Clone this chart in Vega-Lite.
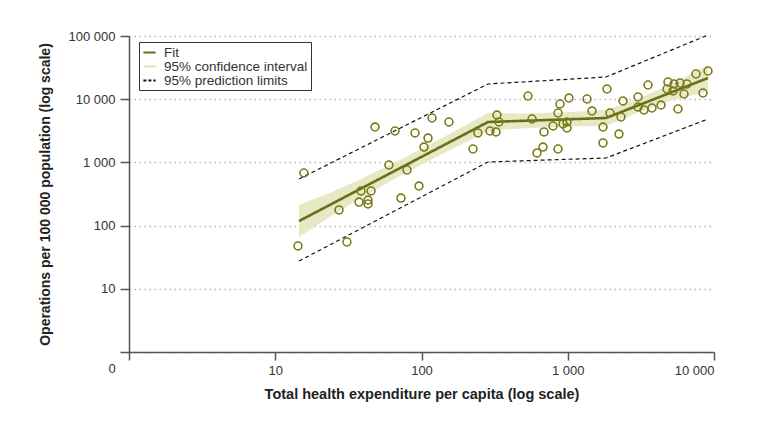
{
  "$schema": "https://vega.github.io/schema/vega-lite/v6.json",
  "width": 585,
  "height": 316,
  "autosize": {"type": "none"},
  "padding": {"left": 129, "top": 36, "right": 57, "bottom": 82},
  "background": "white",
  "config": {
    "view": {"stroke": null},
    "font": "Liberation Sans"
  },
  "datasets": {
    "pts": [
      {"x": 14.3, "y": 47.6}, {"x": 15.7, "y": 680}, {"x": 27.3, "y": 177}, {"x": 30.9, "y": 55},
      {"x": 38.6, "y": 353}, {"x": 37.4, "y": 236}, {"x": 43.1, "y": 254}, {"x": 43.1, "y": 220},
      {"x": 45.2, "y": 353}, {"x": 59.9, "y": 910}, {"x": 72.4, "y": 273}, {"x": 79.6, "y": 758},
      {"x": 96.1, "y": 423}, {"x": 48.1, "y": 3630}, {"x": 65.9, "y": 3140}, {"x": 90.3, "y": 2920},
      {"x": 118, "y": 5040}, {"x": 110.8, "y": 2430}, {"x": 104, "y": 1750}, {"x": 154, "y": 4360},
      {"x": 243, "y": 2920}, {"x": 225, "y": 1630}, {"x": 328, "y": 5620}, {"x": 339, "y": 4360},
      {"x": 294, "y": 3140}, {"x": 323, "y": 3030}, {"x": 535, "y": 11240}, {"x": 570, "y": 4860},
      {"x": 616, "y": 1410}, {"x": 688, "y": 3030}, {"x": 677, "y": 1750}, {"x": 858, "y": 1630},
      {"x": 793, "y": 3770}, {"x": 858, "y": 6050}, {"x": 885, "y": 8400}, {"x": 1020, "y": 10440},
      {"x": 928, "y": 4060}, {"x": 988, "y": 4360}, {"x": 988, "y": 3500}, {"x": 1354, "y": 10080},
      {"x": 1465, "y": 6500}, {"x": 1855, "y": 14500}, {"x": 1742, "y": 3630}, {"x": 1742, "y": 2030},
      {"x": 1945, "y": 6050}, {"x": 2312, "y": 5230}, {"x": 2240, "y": 2810}, {"x": 2387, "y": 9370},
      {"x": 3022, "y": 10830}, {"x": 3022, "y": 7530}, {"x": 3322, "y": 6750}, {"x": 3539, "y": 16780},
      {"x": 3768, "y": 7255}, {"x": 4343, "y": 8090}, {"x": 4846, "y": 18710}, {"x": 4773, "y": 14500},
      {"x": 5325, "y": 17400}, {"x": 5245, "y": 13490}, {"x": 5858, "y": 18050}, {"x": 6536, "y": 17400},
      {"x": 6236, "y": 12090}, {"x": 5674, "y": 7000}, {"x": 7530, "y": 25050}, {"x": 8410, "y": 12530},
      {"x": 9100, "y": 27940}
    ],
    "band": [
      {"x": 14.54, "lo": 66.0, "hi": 211.8},
      {"x": 23.68, "lo": 137.8, "hi": 330.4},
      {"x": 37.98, "lo": 268.5, "hi": 536.3},
      {"x": 71.29, "lo": 609.2, "hi": 1091},
      {"x": 133.8, "lo": 1310, "hi": 2346},
      {"x": 284.9, "lo": 3140, "hi": 6047},
      {"x": 471.6, "lo": 3439, "hi": 5938},
      {"x": 885.2, "lo": 3686, "hi": 6137},
      {"x": 1826, "lo": 3766, "hi": 6748},
      {"x": 3119, "lo": 6342, "hi": 10560},
      {"x": 5002, "lo": 9400, "hi": 16840},
      {"x": 9100, "lo": 13480, "hi": 34760}
    ],
    "fit": [
      {"x": 14.54, "y": 118, "series": "Fit"},
      {"x": 284.9, "y": 4356, "series": "Fit"},
      {"x": 1826, "y": 5040, "series": "Fit"},
      {"x": 9100, "y": 21650, "series": "Fit"}
    ],
    "pred": [
      {"x": 14.54, "y": 546, "part": "upper"},
      {"x": 284.9, "y": 17400, "part": "upper"},
      {"x": 1826, "y": 22450, "part": "upper"},
      {"x": 9100, "y": 103700, "part": "upper"},
      {"x": 14.54, "y": 27.5, "part": "lower"},
      {"x": 284.9, "y": 1015, "part": "lower"},
      {"x": 1826, "y": 1174, "part": "lower"},
      {"x": 9100, "y": 4860, "part": "lower"}
    ],
    "zero": [{"label": "0", "x": 1, "y": 1}]
  },
  "layer": [
    {
      "data": {"name": "band"},
      "mark": {"type": "area", "color": "#e6e9c3", "clip": false},
      "encoding": {
        "x": {
          "field": "x", "type": "quantitative",
          "scale": {"type": "log", "domain": [1, 10000]},
          "axis": {
            "title": "Total health expenditure per capita (log scale)",
            "values": [1, 10, 100, 1000, 10000],
            "labelExpr": "datum.value == 1 ? '' : replace(format(datum.value, ','), ',', ' ')",
            "grid": false,
            "domainColor": "#555", "domainWidth": 1.5,
            "tickColor": "#555", "tickWidth": 1.5, "tickSize": 8,
            "labelFontSize": 13, "labelColor": "#333", "labelPadding": 4,
            "labelFont": "Liberation Sans",
            "titleFont": "Liberation Sans",
            "titleFontSize": 14.5, "titleFontWeight": "bold", "titleColor": "#222", "titlePadding": 10
          }
        },
        "y": {
          "field": "lo", "type": "quantitative",
          "scale": {"type": "log", "domain": [1, 100000]},
          "axis": {
            "title": "Operations per 100 000 population (log scale)",
            "values": [1, 10, 100, 1000, 10000, 100000],
            "labelExpr": "datum.value == 1 ? '' : replace(format(datum.value, ','), ',', ' ')",
            "grid": true,
            "gridDash": [1.5, 3.5], "gridColor": "#b8b8b8", "gridWidth": 1.3,
            "domainColor": "#555", "domainWidth": 1.5,
            "tickColor": "#555", "tickWidth": 1.5, "tickSize": 9,
            "labelFontSize": 13, "labelColor": "#333", "labelPadding": 5,
            "labelFont": "Liberation Sans",
            "titleFont": "Liberation Sans",
            "titleFontSize": 14, "titleFontWeight": "bold", "titleColor": "#222", "titlePadding": 16
          }
        },
        "y2": {"field": "hi"}
      }
    },
    {
      "data": {"name": "pred"},
      "mark": {"type": "line", "strokeWidth": 1.2, "strokeDash": [4, 3], "color": "#111111", "clip": false},
      "encoding": {
        "x": {"field": "x", "type": "quantitative"},
        "y": {"field": "y", "type": "quantitative"},
        "detail": {"field": "part", "type": "nominal"}
      }
    },
    {
      "data": {"name": "fit"},
      "mark": {"type": "line", "strokeWidth": 2.6, "clip": false},
      "encoding": {
        "x": {"field": "x", "type": "quantitative"},
        "y": {"field": "y", "type": "quantitative"},
        "strokeDash": {
          "field": "series", "type": "nominal",
          "scale": {
            "domain": ["Fit", "95% confidence interval", "95% prediction limits"],
            "range": [[1, 0], [1, 0], [3, 2]]
          },
          "legend": {
            "title": null,
            "orient": "none", "legendX": 10, "legendY": 6,
            "strokeColor": "#333", "fillColor": "white", "padding": 3,
            "labelFontSize": 13.5, "labelColor": "#333", "labelFont": "Liberation Sans",
            "labelOffset": 7, "rowPadding": 0,
            "symbolSize": 150, "symbolType": "stroke", "symbolStrokeWidth": 2.2
          }
        },
        "color": {
          "field": "series", "type": "nominal",
          "scale": {
            "domain": ["Fit", "95% confidence interval", "95% prediction limits"],
            "range": ["#66701a", "#dfe3b3", "#111111"]
          },
          "legend": {
            "title": null,
            "orient": "none", "legendX": 10, "legendY": 6,
            "strokeColor": "#333", "fillColor": "white", "padding": 3,
            "labelFontSize": 13.5, "labelColor": "#333", "labelFont": "Liberation Sans",
            "labelOffset": 7, "rowPadding": 0,
            "symbolSize": 150, "symbolType": "stroke", "symbolStrokeWidth": 2.2
          }
        }
      }
    },
    {
      "data": {"name": "pts"},
      "mark": {"type": "point", "shape": "circle", "filled": false, "size": 62, "strokeWidth": 1.6, "color": "#7a7a18", "opacity": 1, "clip": false},
      "encoding": {
        "x": {"field": "x", "type": "quantitative"},
        "y": {"field": "y", "type": "quantitative"}
      }
    },
    {
      "data": {"name": "zero"},
      "mark": {"type": "text", "dx": -17, "dy": 17, "fontSize": 13, "color": "#333", "font": "Liberation Sans", "align": "center", "baseline": "middle"},
      "encoding": {
        "x": {"field": "x", "type": "quantitative"},
        "y": {"field": "y", "type": "quantitative"},
        "text": {"field": "label"}
      }
    }
  ]
}
